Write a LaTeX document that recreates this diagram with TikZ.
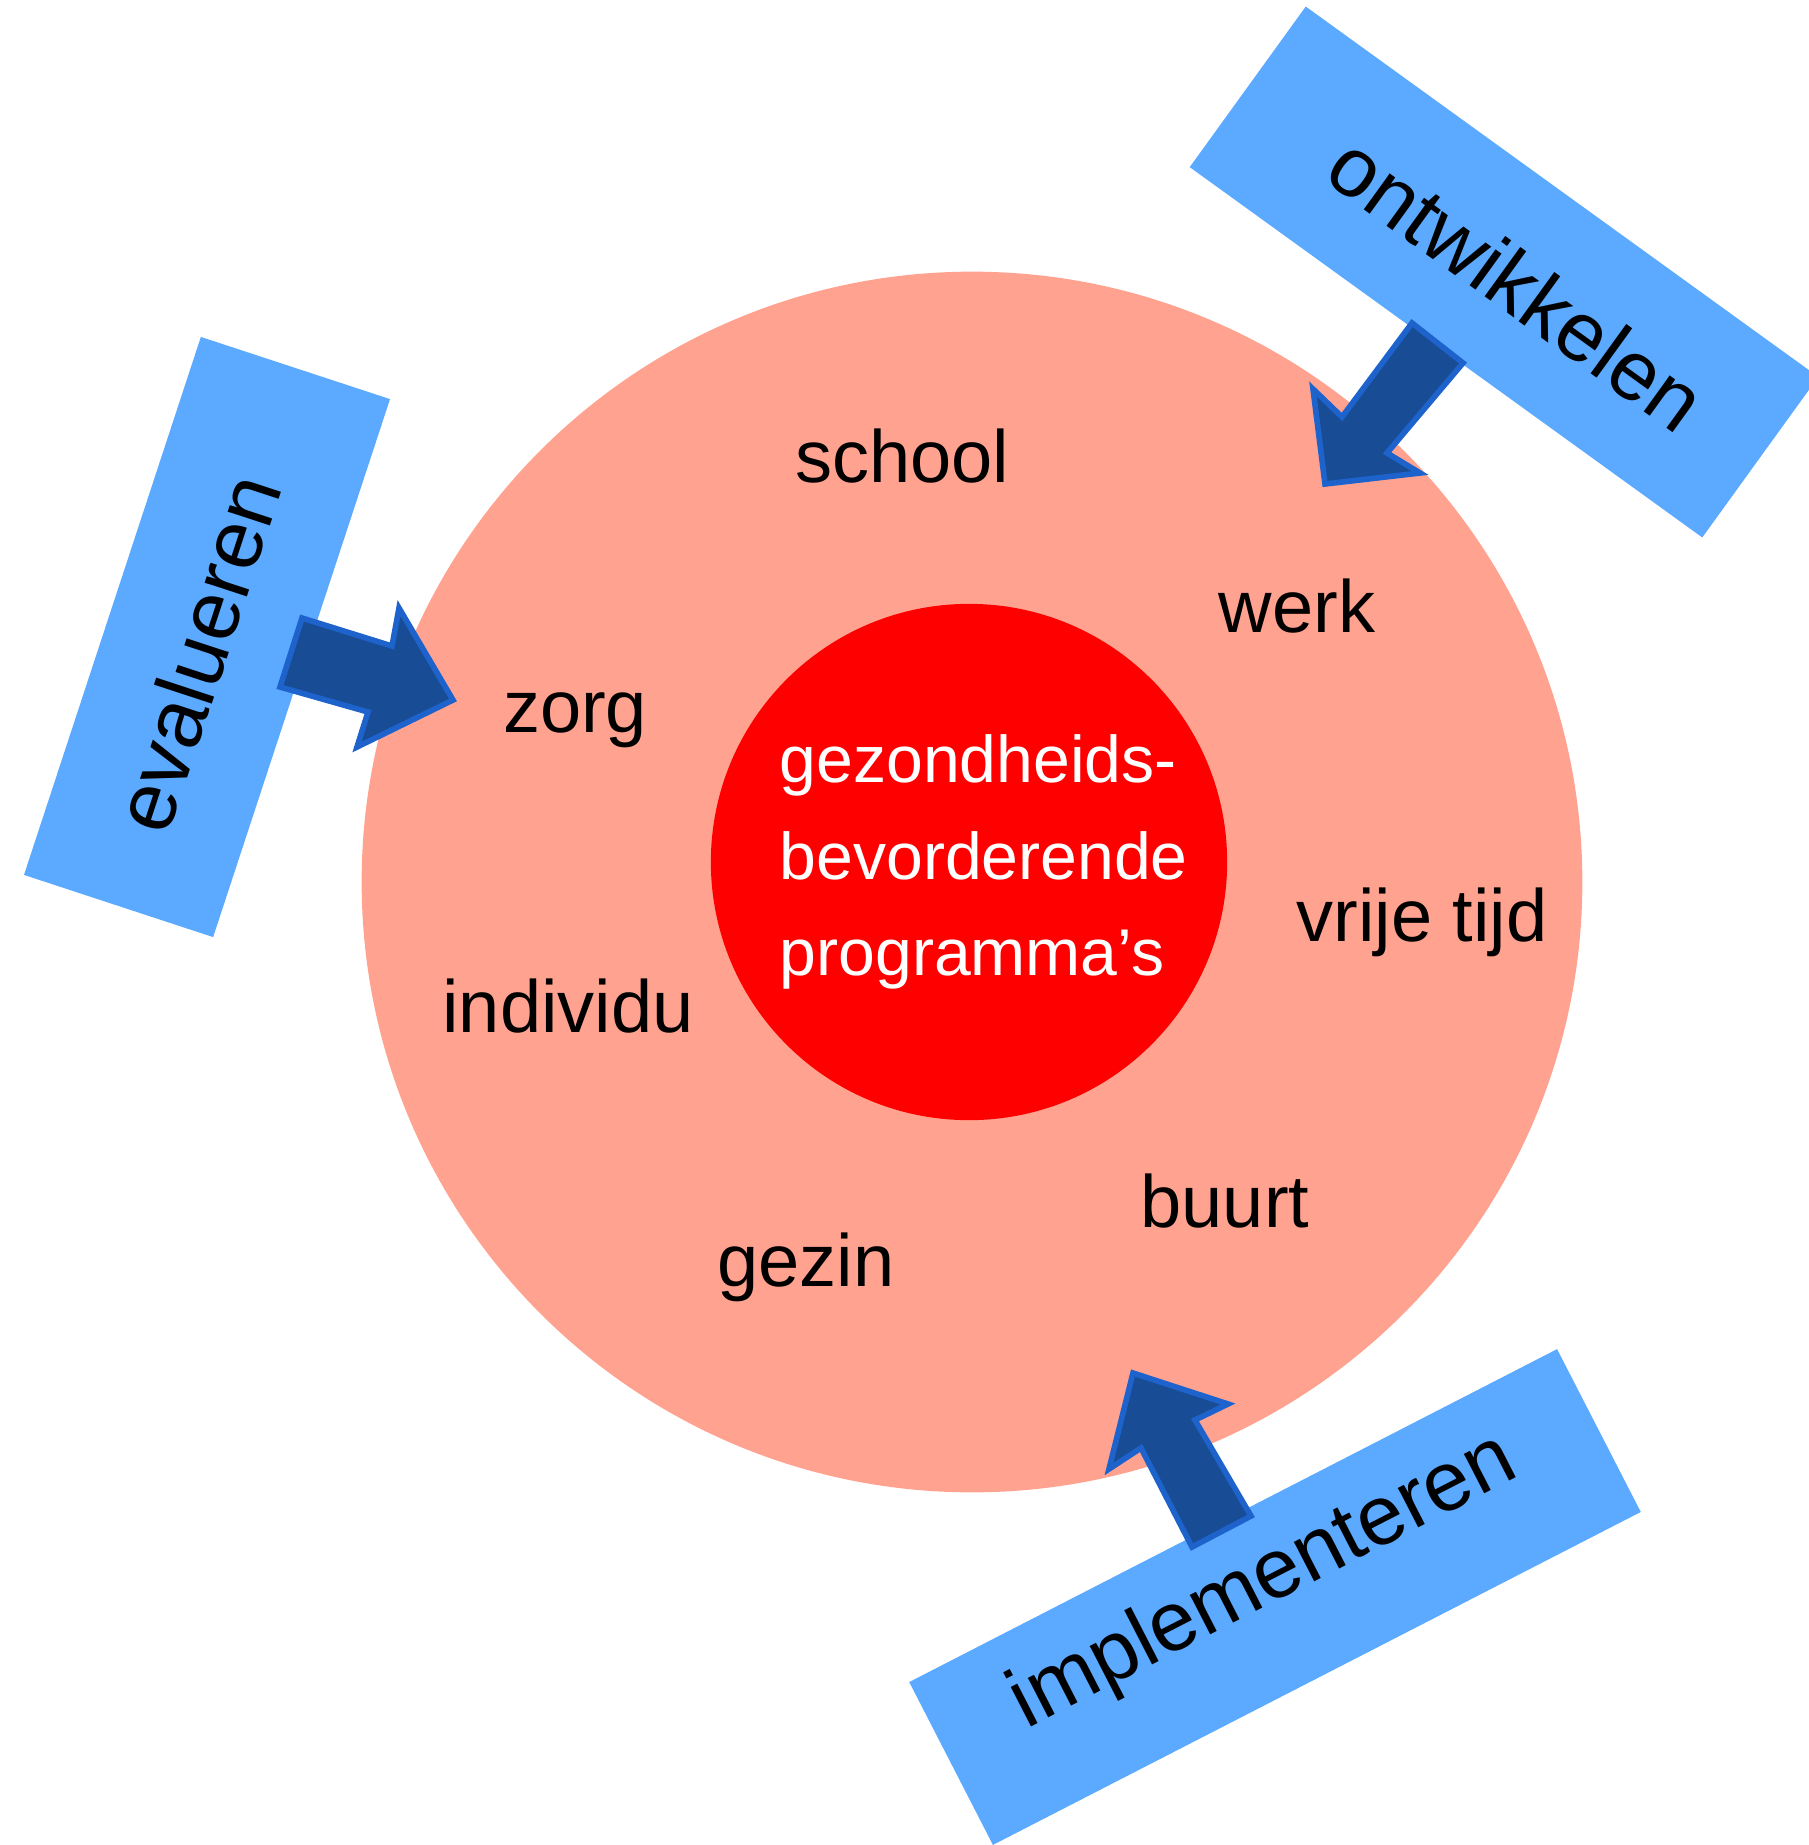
\documentclass[tikz,border=0pt]{standalone}
\usepackage{fontspec}
\setmainfont{Liberation Sans}
\definecolor{zalm}{RGB}{255,163,144}
\definecolor{kernrood}{RGB}{255,0,0}
\definecolor{fasenblauw}{RGB}{91,170,255}
\definecolor{pijlvul}{RGB}{24,77,150}
\definecolor{pijlrand}{RGB}{30,98,204}
\tikzset{
  setting/.style={anchor=base,inner sep=0pt,font=\fontsize{21.05}{25}\selectfont},
  phase/.style={fill=fasenblauw,inner sep=0pt},
  phasetext/.style={inner sep=0pt,font=\fontsize{23.9}{28}\selectfont},
  blockpijl/.style={fill=pijlvul,draw=pijlrand,line width=1.6pt,line join=miter},
}
\begin{document}
\begin{tikzpicture}[x=0.01cm,y=-0.01cm]
\useasboundingbox (0,0) rectangle (1808,1845);
% kringen
\node[circle,fill=zalm,minimum size=12.2cm,inner sep=0pt] (omgeving) at (972,882) {};
\node[circle,fill=kernrood,minimum size=5.16cm,inner sep=0pt] (kern) at (969,862) {};
\node[anchor=west,inner sep=0pt,align=left,text=white,%
  font=\fontsize{18.8}{27.46}\selectfont] (programma) at (779,862)
  {gezondheids-\\bevorderende\\programma’s};
% settings
\node[setting] (school) at (902,482) {school};
\node[setting] (werk) at (1297,632) {werk};
\node[setting] (zorg) at (575,732) {zorg};
\node[setting] (vrijetijd) at (1422,941) {vrije tijd};
\node[setting] (individu) at (568,1032) {individu};
\node[setting] (buurt) at (1225,1227) {buurt};
\node[setting] (gezin) at (806,1286) {gezin};
% fasen
\node[phase,rotate=-35.85,minimum width=6.32cm,minimum height=1.98cm]%
  (ontwikkelenvlak) at (1504,272) {};
\node[phasetext,rotate=-35.85] (ontwikkelen) at (1517,283) {ontwikkelen};
\node[phase,rotate=71.8,minimum width=5.66cm,minimum height=1.99cm]%
  (evaluerenvlak) at (207,637) {};
\node[phasetext,rotate=71.8] (evalueren) at (197,653) {evalueren};
\node[phase,rotate=27.2,minimum width=7.28cm,minimum height=1.83cm]%
  (implementerenvlak) at (1275,1597) {};
\node[phasetext,rotate=27.2] (implementeren) at (1264,1583) {implementeren};
% pijlen
\path[blockpijl](1412,323)--(1463,363)--(1387,453)--(1420,473)%
  --(1325,484)--(1313,389)--(1342,417)--cycle;
\path[blockpijl](302,618)--(392,646)--(399,608)--(453,700)%
  --(357,747)--(368,712)--(280,687)--cycle;
\path[blockpijl](1133,1373)--(1228,1404)--(1195,1420)--(1251,1516)%
  --(1192,1547)--(1141,1448)--(1109,1469)--cycle;
\end{tikzpicture}
\end{document}
